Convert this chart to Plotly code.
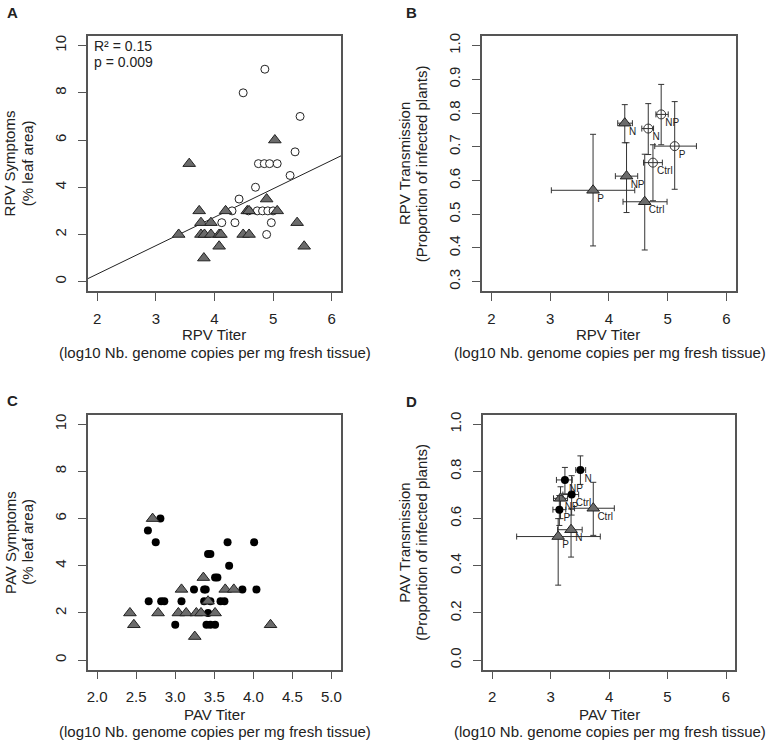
import plotly.graph_objects as go

W, H = 767, 742

# ---------------- Panel A: RPV titer vs symptoms ----------------
a_circ_x = [4.86, 4.49, 5.46, 5.375, 4.75, 4.85, 4.94, 5.07, 5.29, 4.70, 4.42,
            4.30, 4.58, 4.73, 4.82, 4.91, 5.00, 4.125, 4.35, 4.97, 4.89]
a_circ_y = [9, 8, 7, 5.5, 5, 5, 5, 5, 4.5, 4, 3.5,
            3, 3, 3, 3, 3, 3, 2.5, 2.5, 2.5, 2]
a_tri_x = [3.57, 5.03, 4.89, 3.74, 4.19, 4.56, 4.59, 5.07, 3.77, 3.94, 5.41,
           3.39, 3.77, 3.83, 3.94, 4.08, 4.11, 4.49, 4.59, 4.08, 5.53, 3.82]
a_tri_y = [5, 6, 3.5, 3, 3, 3, 3, 3, 2.5, 2.5, 2.5,
           2, 2, 2, 2, 2, 2, 2, 2, 1.5, 1.5, 1]
reg_intercept = -2.09
reg_slope = 1.205
reg_text = ["R\u00b2 = 0.15", "p = 0.009"]

# ---------------- Panel B: RPV titer vs transmission ----------------
b_labels = ["N", "NP", "P", "Ctrl"]
b_tri_x = [4.27, 4.30, 3.73, 4.61]
b_tri_xlo = [4.15, 4.11, 3.02, 4.24]
b_tri_xhi = [4.40, 4.49, 4.44, 4.99]
b_tri_y = [0.770, 0.613, 0.571, 0.537]
b_tri_ylo = [0.712, 0.505, 0.406, 0.394]
b_tri_yhi = [0.825, 0.712, 0.737, 0.678]

b_circ_labels = ["NP", "N", "P", "Ctrl"]
b_circ_x = [4.89, 4.67, 5.12, 4.75]
b_circ_xlo = [4.80, 4.56, 4.78, 4.59]
b_circ_xhi = [5.01, 4.76, 5.49, 4.91]
b_circ_y = [0.796, 0.754, 0.702, 0.653]
b_circ_ylo = [0.706, 0.677, 0.574, 0.540]
b_circ_yhi = [0.885, 0.828, 0.834, 0.706]

# ---------------- Panel C: PAV titer vs symptoms ----------------
c_dot_x = [2.81, 2.65, 2.75, 3.67, 4.01, 3.42, 3.45, 3.69, 3.51, 3.54,
           3.24, 3.37, 3.39, 3.86, 4.04, 2.66, 2.82, 2.86, 3.08, 3.37, 3.45,
           3.58, 3.63, 3.42, 3.00, 3.40, 3.45, 3.51]
c_dot_y = [6, 5.5, 5, 5, 5, 4.5, 4.5, 4, 3.5, 3.5,
           3, 3, 3, 3, 3, 2.5, 2.5, 2.5, 2.5, 2.5, 2.5,
           2.5, 2.5, 2, 1.5, 1.5, 1.5, 1.5]
c_tri_x = [2.71, 3.36, 3.08, 3.64, 3.75, 3.42, 2.42, 2.78, 3.04, 3.14,
           3.27, 3.33, 3.51, 2.47, 4.22, 3.25]
c_tri_y = [6, 3.5, 3, 3, 3, 2.5, 2, 2, 2, 2,
           2, 2, 2, 1.5, 1.5, 1]

# ---------------- Panel D: PAV titer vs transmission ----------------
d_circ_labels = ["N", "NP", "Ctrl", "P"]
d_circ_x = [3.51, 3.245, 3.36, 3.15]
d_circ_xlo = [3.43, 3.10, 3.21, 3.04]
d_circ_xhi = [3.60, 3.37, 3.48, 3.26]
d_circ_y = [0.806, 0.764, 0.702, 0.638]
d_circ_ylo = [0.745, 0.705, 0.615, 0.571]
d_circ_yhi = [0.866, 0.817, 0.782, 0.698]

d_tri_labels = ["Ctrl", "N", "P", "NP"]
d_tri_x = [3.73, 3.35, 3.13, 3.17]
d_tri_xlo = [3.41, 3.12, 2.42, 3.05]
d_tri_xhi = [4.09, 3.54, 3.85, 3.29]
d_tri_y = [0.644, 0.553, 0.524, 0.686]
d_tri_ylo = [0.529, 0.437, 0.318, 0.600]
d_tri_yhi = [0.754, 0.641, 0.600, 0.735]

# tick labels
titer_ticks = [2, 3, 4, 5, 6]
pav_titer_ticks = [2.0, 2.5, 3.0, 3.5, 4.0, 4.5, 5.0]
symptom_ticks = [0, 2, 4, 6, 8, 10]
b_trans_ticks = [0.3, 0.4, 0.5, 0.6, 0.7, 0.8, 0.9, 1.0]
d_trans_ticks = [0.0, 0.2, 0.4, 0.6, 0.8, 1.0]

FONT = "Liberation Sans, Arial, sans-serif"
TRI_FILL = "#6b6b6b"
EB = "#333333"


def px(x):
    return x / W


def py(y):
    return 1 - y / H


fig = go.Figure()


def diff(a, b):
    return [round(p - q, 4) for p, q in zip(a, b)]


# Panel A
A_XR = [1.84, 6.16]
fig.add_trace(go.Scatter(x=A_XR, y=[reg_intercept + reg_slope * v for v in A_XR],
                         mode="lines", line=dict(color="#222", width=1),
                         xaxis="x", yaxis="y", hoverinfo="skip"))
fig.add_trace(go.Scatter(x=a_circ_x, y=a_circ_y, mode="markers",
                         marker=dict(symbol="circle", size=8, color="white",
                                     line=dict(color="#222", width=1)),
                         xaxis="x", yaxis="y"))
fig.add_trace(go.Scatter(x=a_tri_x, y=a_tri_y, mode="markers",
                         marker=dict(symbol="triangle-up", size=11, color=TRI_FILL,
                                     line=dict(color="#222", width=1)),
                         xaxis="x", yaxis="y"))


def eb_traces(x, xlo, xhi, y, ylo, yhi, labels, marker, xa, ya):
    pts = go.Scatter(
        x=x, y=y, mode="markers", marker=marker,
        error_x=dict(type="data", symmetric=False, array=diff(xhi, x),
                     arrayminus=diff(x, xlo), color=EB, thickness=1, width=3),
        error_y=dict(type="data", symmetric=False, array=diff(yhi, y),
                     arrayminus=diff(y, ylo), color=EB, thickness=1, width=3),
        xaxis=xa, yaxis=ya)
    txt = go.Scatter(x=x, y=y, text=labels, mode="markers+text",
                     textposition="bottom right",
                     marker=dict(size=5, opacity=0),
                     textfont=dict(size=10, color="#222", family=FONT),
                     xaxis=xa, yaxis=ya, hoverinfo="skip")
    return [pts, txt]


tri_marker = dict(symbol="triangle-up", size=11, color=TRI_FILL,
                  line=dict(color="#222", width=1))
open_marker = dict(symbol="circle-open", size=9, color="#333", line=dict(width=1))
dot_marker = dict(symbol="circle", size=8, color="black")

# Panel B
fig.add_traces(eb_traces(b_tri_x, b_tri_xlo, b_tri_xhi, b_tri_y, b_tri_ylo, b_tri_yhi,
                         b_labels, tri_marker, "x2", "y2"))
fig.add_traces(eb_traces(b_circ_x, b_circ_xlo, b_circ_xhi, b_circ_y, b_circ_ylo, b_circ_yhi,
                         b_circ_labels, open_marker, "x2", "y2"))

# Panel C
fig.add_trace(go.Scatter(x=c_dot_x, y=c_dot_y, mode="markers", marker=dot_marker,
                         xaxis="x3", yaxis="y3"))
fig.add_trace(go.Scatter(x=c_tri_x, y=c_tri_y, mode="markers", marker=tri_marker,
                         xaxis="x3", yaxis="y3"))

# Panel D
fig.add_traces(eb_traces(d_tri_x, d_tri_xlo, d_tri_xhi, d_tri_y, d_tri_ylo, d_tri_yhi,
                         d_tri_labels, tri_marker, "x4", "y4"))
fig.add_traces(eb_traces(d_circ_x, d_circ_xlo, d_circ_xhi, d_circ_y, d_circ_ylo, d_circ_yhi,
                         d_circ_labels, dot_marker, "x4", "y4"))

axis_common = dict(showline=True, mirror=True, linecolor="#555", linewidth=1.5,
                   ticks="outside", ticklen=8, tickwidth=1.2, tickcolor="#555",
                   showgrid=False, zeroline=False, fixedrange=True,
                   tickfont=dict(family=FONT, size=15, color="#222"))

top = [py(289.3), py(33.3)]
bot = [py(669.3), py(413.5)]

fig.update_layout(
    width=W, height=H, margin=dict(l=0, r=0, t=0, b=0),
    paper_bgcolor="white", plot_bgcolor="white", showlegend=False,
    font=dict(family=FONT, size=14, color="#222"),
    xaxis=dict(domain=[px(87), px(341)], range=[1.84, 6.16], tickvals=titer_ticks,
               anchor="y", ticklabelstandoff=5, **axis_common),
    yaxis=dict(domain=top, range=[-0.4, 10.4], tickvals=symptom_ticks, tickangle=-90,
               anchor="x", ticklabelstandoff=6, **axis_common),
    xaxis2=dict(domain=[px(482.3), px(736.7)], range=[1.84, 6.16], tickvals=titer_ticks,
                anchor="y2", ticklabelstandoff=5, **axis_common),
    yaxis2=dict(domain=top, range=[0.272, 1.028], tickvals=b_trans_ticks, tickformat=".1f",
                tickangle=-90, anchor="x2", ticklabelstandoff=6, **axis_common),
    xaxis3=dict(domain=[px(87), px(340.7)], range=[1.88, 5.12], tickvals=pav_titer_ticks,
                tickformat=".1f", anchor="y3", ticklabelstandoff=5, **axis_common),
    yaxis3=dict(domain=bot, range=[-0.4, 10.4], tickvals=symptom_ticks, tickangle=-90,
                anchor="x3", ticklabelstandoff=6, **axis_common),
    xaxis4=dict(domain=[px(483), px(736.3)], range=[1.84, 6.16], tickvals=titer_ticks,
                anchor="y4", ticklabelstandoff=5, **axis_common),
    yaxis4=dict(domain=bot, range=[-0.04, 1.04], tickvals=d_trans_ticks, tickformat=".1f",
                tickangle=-90, anchor="x4", ticklabelstandoff=6, **axis_common),
)

sub = "(log10 Nb. genome copies per mg fresh tissue)"
ann = []


def add_ann(text, x, y, angle=0, size=15, bold=False, xanchor="center"):
    ann.append(dict(text=("<b>%s</b>" % text) if bold else text, x=px(x), y=py(y),
                    xref="paper", yref="paper", showarrow=False, textangle=angle,
                    xanchor=xanchor, yanchor="middle",
                    font=dict(family=FONT, size=size, color="#222")))


# Panel letters
add_ann("A", 12, 10, size=15, bold=True)
add_ann("B", 412, 10, size=15, bold=True)
add_ann("C", 12, 399, size=15, bold=True)
add_ann("D", 412, 400, size=15, bold=True)

# Axis titles
add_ann("RPV Titer", 214, 333)
add_ann(sub, 215, 351)
add_ann("RPV Titer", 609, 333)
add_ann(sub, 611, 351)
add_ann("PAV Titer", 214, 714)
add_ann(sub, 215, 731.5)
add_ann("PAV Titer", 609.7, 714)
add_ann(sub, 611, 731.5)

add_ann("RPV Symptoms", 8.8, 161.3, angle=-90)
add_ann("(% leaf area)", 26.7, 161.3, angle=-90)
add_ann("RPV Transmission", 404.5, 161.3, angle=-90)
add_ann("(Proportion of infected plants)", 421.7, 161.3, angle=-90)
add_ann("PAV Symptoms", 8.8, 541.4, angle=-90)
add_ann("(% leaf area)", 26.7, 541.4, angle=-90)
add_ann("PAV Transmission", 404.5, 541.4, angle=-90)
add_ann("(Proportion of infected plants)", 421.7, 541.4, angle=-90)

# Regression stats
add_ann(reg_text[0], 91.5, 43.3, size=14, xanchor="left")
add_ann(reg_text[1], 91.5, 59, size=14, xanchor="left")

fig.update_layout(annotations=ann)
fig.write_html("out.html", config={"displayModeBar": False},
               post_script="document.body.style.margin='0px';")
